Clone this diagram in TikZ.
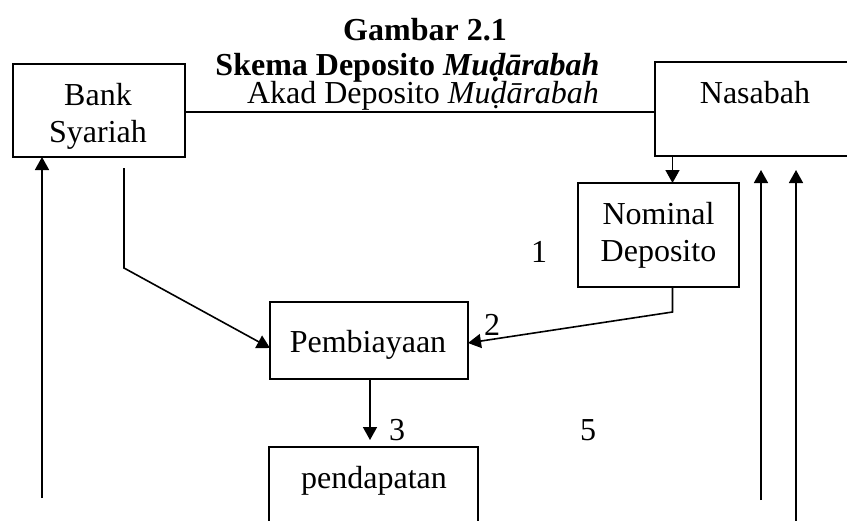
\documentclass[tikz,border=0pt]{standalone}
\usepackage{fontspec}
\setmainfont{Liberation Serif}
\usetikzlibrary{arrows.meta}
\begin{document}
\begin{tikzpicture}[x=1pt,y=-1pt,
  txt/.style={anchor=base,inner sep=0pt,font=\fontsize{32}{38}\selectfont},
  boxn/.style={draw,line width=1.8pt,inner sep=0pt,outer sep=0pt},
  arr/.style={line width=1.6pt,-{Triangle[length=13pt,width=14pt]}},
  ln/.style={line width=1.6pt}]
\useasboundingbox (0,0) rectangle (847,520);
% boxes
\node[boxn,minimum width=172pt,minimum height=93pt] (bank) at (99,110.5) {};
\node[boxn,minimum width=215pt,minimum height=94pt] (nasabah) at (762.5,109) {};
\node[boxn,minimum width=161pt,minimum height=104pt] (nominal) at (658.5,235) {};
\node[boxn,minimum width=198pt,minimum height=77pt] (pemb) at (369,340.5) {};
\node[boxn,minimum width=209pt,minimum height=113pt] (pend) at (373.5,503.5) {};
% texts
\node[txt] (t1) at (425,40) {\textbf{Gambar 2.1}};
\node[txt] (t2) at (407.5,75.5) {\textbf{Skema Deposito \textit{Muḍārabah}}};
\node[txt] (t3) at (423,103.5) {Akad Deposito \textit{Muḍārabah}};
\node[txt] (tb1) at (98,105) {Bank};
\node[txt] (tb2) at (98,142) {Syariah};
\node[txt] (tn) at (755,103) {Nasabah};
\node[txt] (tno1) at (658.5,224) {Nominal};
\node[txt] (tno2) at (658.5,261) {Deposito};
\node[txt] (tp) at (368,352) {Pembiayaan};
\node[txt] (tpd) at (374,488) {pendapatan};
\node[txt] (n1) at (539,262) {1};
\node[txt] (n2) at (492,335) {2};
\node[txt] (n3) at (397,440) {3};
\node[txt] (n5) at (588,440) {5};
% coordinates
\coordinate (l0) at (42,498);
\coordinate (b1) at (124,168);
\coordinate (b2) at (124,268);
\coordinate (nx) at (672.5,0);
\coordinate (nb) at (672.5,312);
\coordinate (px) at (370,0);
\coordinate (p3) at (370,440);
\coordinate (r1b) at (761,500);
\coordinate (r1t) at (761,170);
\coordinate (r2b) at (796,530);
\coordinate (r2t) at (796,170);
% connectors
\draw[ln] ([yshift=-1.5pt]bank.east) -- ([yshift=-3pt]nasabah.west);
\draw[arr] (l0) -- (l0 |- bank.south);
\draw[arr] (b1) -- (b2) -- ([yshift=-7.5pt]pemb.west);
\draw[arr] (nasabah.south -| nx) -- (nominal.north -| nx);
\draw[arr] (nominal.south -| nx) -- (nb) -- ([yshift=-2.5pt]pemb.east);
\draw[arr] (pemb.south -| px) -- (p3);
\draw[arr] (r1b) -- (r1t);
\draw[arr] (r2b) -- (r2t);
\end{tikzpicture}
\end{document}
